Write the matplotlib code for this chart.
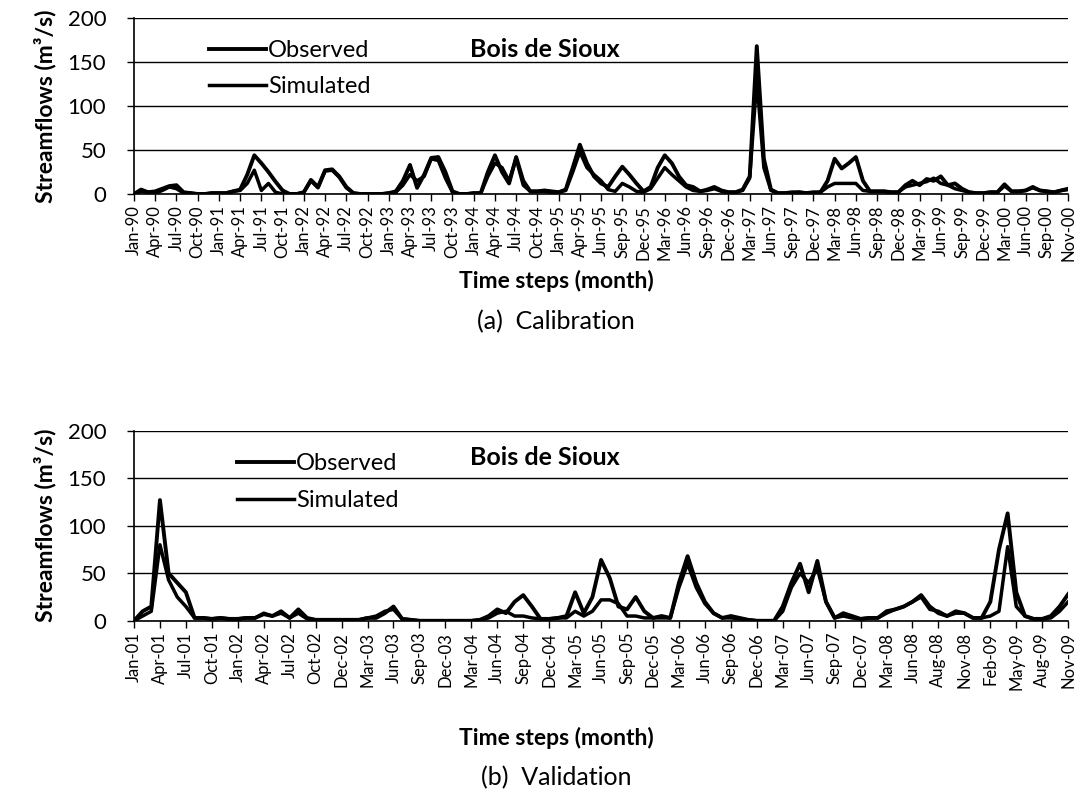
import numpy as np
import matplotlib
matplotlib.use("Agg")
import matplotlib.pyplot as plt

plt.rcParams['font.family'] = ['Lato', 'DejaVu Sans']

# calibration period, monthly flows (m3/s)
cal_labels = ["Jan-90", "Apr-90", "Jul-90", "Oct-90", "Jan-91", "Apr-91", "Jul-91", "Oct-91",
              "Jan-92", "Apr-92", "Jul-92", "Oct-92", "Jan-93", "Apr-93", "Jul-93", "Oct-93",
              "Jan-94", "Apr-94", "Jul-94", "Oct-94", "Jan-95", "Apr-95", "Jun-95", "Sep-95",
              "Dec-95", "Mar-96", "Jun-96", "Sep-96", "Dec-96", "Mar-97", "Jun-97", "Sep-97",
              "Dec-97", "Mar-98", "Jun-98", "Sep-98", "Dec-98", "Mar-99", "Jun-99", "Sep-99",
              "Dec-99", "Mar-00", "Jun-00", "Sep-00", "Nov-00"]

cal_obs = [0, 5, 2, 3, 6, 9, 10, 2, 1, 0,
           0, 1, 1, 1, 3, 5, 22, 44, 35, 25,
           14, 4, 0, 0, 2, 16, 8, 27, 28, 20,
           8, 1, 0, 0, 0, 0, 1, 3, 15, 33,
           7, 22, 41, 42, 25, 3, 0, 0, 1, 1,
           25, 44, 25, 12, 42, 15, 3, 3, 4, 3,
           2, 5, 30, 56, 35, 20, 12, 8, 20, 31,
           22, 12, 3, 8, 30, 44, 35, 20, 10, 8,
           3, 5, 8, 4, 2, 2, 5, 20, 168, 40,
           5, 1, 1, 2, 2, 1, 2, 2, 15, 40,
           29, 35, 42, 15, 3, 3, 3, 2, 2, 10,
           15, 10, 17, 15, 20, 10, 12, 6, 2, 1,
           1, 2, 2, 11, 3, 3, 4, 8, 4, 3,
           2, 4, 6]

cal_sim = [0, 3, 2, 1, 4, 8, 6, 1, 1, 0,
           0, 1, 1, 1, 3, 4, 12, 27, 4, 12,
           2, 0, 0, 0, 2, 15, 7, 26, 27, 19,
           7, 1, 0, 0, 0, 0, 1, 2, 10, 22,
           15, 20, 40, 38, 18, 2, 0, 0, 1, 1,
           20, 35, 30, 15, 40, 10, 3, 3, 3, 2,
           2, 4, 25, 48, 30, 22, 15, 5, 3, 12,
           8, 3, 2, 6, 18, 30, 22, 15, 8, 4,
           3, 4, 6, 3, 2, 2, 4, 18, 130, 30,
           4, 1, 1, 1, 2, 1, 1, 2, 8, 12,
           12, 12, 12, 4, 3, 3, 3, 2, 2, 8,
           10, 12, 14, 18, 12, 10, 6, 4, 2, 1,
           1, 2, 2, 9, 3, 3, 4, 7, 4, 3,
           2, 4, 5]

# validation period
val_labels = ["Jan-01", "Apr-01", "Jul-01", "Oct-01", "Jan-02", "Apr-02", "Jul-02", "Oct-02",
              "Dec-02", "Mar-03", "Jun-03", "Sep-03", "Dec-03", "Mar-04", "Jun-04", "Sep-04",
              "Dec-04", "Mar-05", "Jun-05", "Sep-05", "Dec-05", "Mar-06", "Jun-06", "Sep-06",
              "Dec-06", "Mar-07", "Jun-07", "Sep-07", "Dec-07", "Mar-08", "Jun-08", "Aug-08",
              "Nov-08", "Feb-09", "May-09", "Aug-09", "Nov-09"]

val_obs = [0, 10, 15, 127, 50, 40, 30, 3, 3, 2,
           3, 2, 2, 3, 3, 7, 5, 10, 3, 12,
           3, 1, 1, 1, 1, 1, 1, 3, 3, 8,
           15, 2, 1, 0, 0, 0, 0, 0, 0, 0,
           1, 5, 12, 8, 20, 27, 15, 2, 2, 3,
           5, 30, 8, 25, 64, 45, 15, 12, 25, 10,
           3, 5, 3, 40, 68, 40, 20, 8, 3, 5,
           3, 1, 0, 0, 0, 15, 40, 60, 30, 63,
           20, 3, 8, 5, 2, 3, 3, 10, 12, 15,
           20, 27, 15, 8, 5, 10, 8, 3, 3, 20,
           75, 113, 30, 5, 2, 2, 5, 15, 28]

val_sim = [0, 5, 10, 80, 43, 25, 15, 3, 3, 2,
           3, 2, 2, 3, 3, 8, 5, 8, 3, 8,
           2, 1, 1, 1, 1, 1, 1, 3, 5, 10,
           12, 2, 1, 0, 0, 0, 0, 0, 0, 0,
           1, 3, 8, 10, 5, 5, 3, 2, 2, 3,
           3, 10, 5, 10, 22, 22, 18, 5, 5, 3,
           3, 3, 3, 35, 60, 35, 18, 8, 3, 3,
           2, 1, 0, 0, 0, 10, 35, 50, 40, 55,
           20, 3, 5, 3, 2, 3, 3, 8, 12, 15,
           20, 25, 12, 10, 5, 8, 8, 3, 3, 5,
           10, 78, 15, 5, 2, 2, 3, 10, 20]


fig = plt.figure(figsize=(10.85, 7.97), dpi=100)
ax1 = fig.add_axes([0.1235, 0.7566, 0.861, 0.2208])
ax2 = fig.add_axes([0.1235, 0.2211, 0.861, 0.2385])


def draw_panel(ax, obs, sim, labels, leg_x, leg_y, title_y):
    x = np.arange(len(obs))
    ax.plot(x, obs, color='black', lw=2.8, label='Observed')
    ax.plot(x, sim, color='black', lw=2.5, label='Simulated')
    ax.set_xlim(0, len(obs) - 1)
    ax.set_ylim(0, 200)
    ax.set_yticks([0, 50, 100, 150, 200])
    ax.set_xticks(np.arange(0, len(obs), 3))
    ax.set_xticklabels(labels, rotation=90, fontsize=12)
    ax.tick_params(axis='y', labelsize=16, length=5, width=1, direction='out', pad=15)
    ax.tick_params(axis='x', length=5, width=1, direction='out', pad=3)
    ax.grid(axis='y', color='black', lw=1)
    ax.set_axisbelow(True)
    for s in ['top', 'right']:
        ax.spines[s].set_visible(False)
    ax.spines['left'].set_linewidth(1.2)
    ax.spines['bottom'].set_linewidth(1.2)
    ax.set_ylabel('Streamflows (m³/s)', fontsize=16.5, fontweight='bold', labelpad=8)
    ax.legend(loc='upper left', bbox_to_anchor=(leg_x, leg_y), frameon=False,
              fontsize=17, handlelength=2.4, handletextpad=0.1, labelspacing=0.65,
              borderaxespad=0.0)
    ax.text(0.44, title_y, 'Bois de Sioux', transform=ax.transAxes,
            fontsize=18, fontweight='bold', ha='center', va='center')


draw_panel(ax1, cal_obs, cal_sim, cal_labels, 0.07, 0.93, 0.82)
draw_panel(ax2, val_obs, val_sim, val_labels, 0.1, 0.93, 0.86)

fig.text(0.5125, 1 - 281 / 797, 'Time steps (month)', fontsize=16.5, fontweight='bold',
         ha='center', va='center')
fig.text(0.5125, 1 - 322 / 797, '(a)  Calibration', fontsize=18, ha='center', va='center')
fig.text(0.5125, 1 - 738 / 797, 'Time steps (month)', fontsize=16.5, fontweight='bold',
         ha='center', va='center')
fig.text(0.5125, 1 - 778 / 797, '(b)  Validation', fontsize=18, ha='center', va='center')

fig.savefig('out.png', dpi=100)
